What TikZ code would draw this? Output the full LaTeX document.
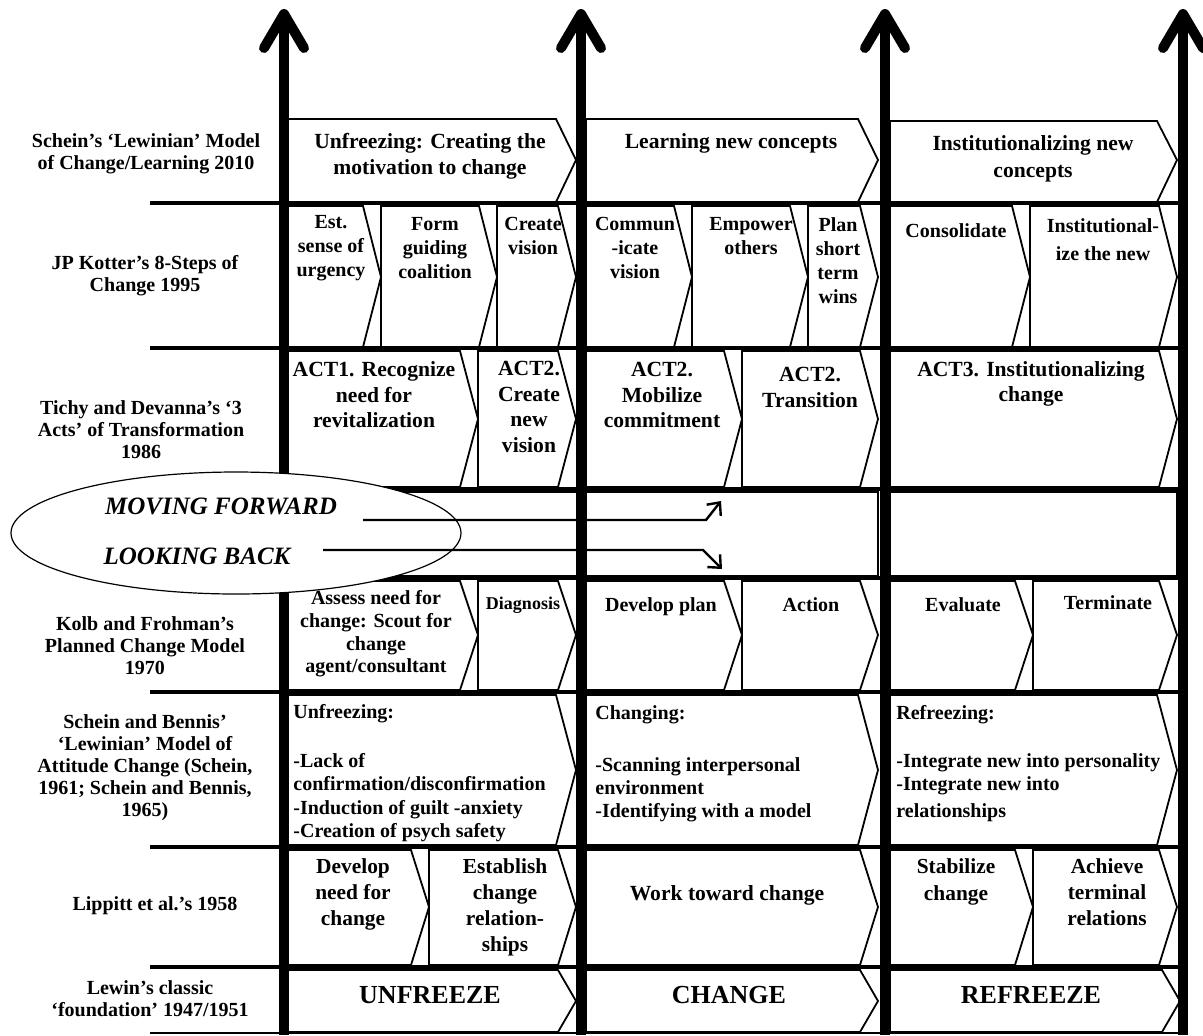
\documentclass[tikz,border=0pt]{standalone}
\usepackage{fontspec}
\setmainfont{Liberation Serif}
\usetikzlibrary{arrows.meta,shapes.geometric}

\begin{document}
\begin{tikzpicture}[x=0.5pt,y=-0.5pt,
  chev/.style={draw,line width=0.9pt,fill=white},
  sepline/.style={line width=2.3pt},
  axis/.style={line width=5pt,-{Straight Barb[length=17pt,width=20pt,round]}},
  flow/.style={line width=1.2pt,-{Straight Barb[length=5pt,width=9pt]}},
  txt/.style={font=\bfseries\fontsize{10}{12}\selectfont,align=center,anchor=north,inner sep=0pt},
  wide/.style={txt,font=\bfseries\fontsize{10.8}{12.8}\selectfont},
  lst/.style={font=\bfseries\fontsize{10}{11.6}\selectfont,align=left,anchor=north west,inner sep=0pt},
  lbl/.style={font=\bfseries\fontsize{10}{11}\selectfont,align=center,inner sep=0pt},
  big/.style={font=\bfseries\fontsize{13}{15}\selectfont,inner sep=0pt},
  tag/.style={font=\bfseries\itshape\fontsize{12.5}{14}\selectfont,inner sep=0pt}]

\useasboundingbox (0,0) rectangle (1203,1035);

% Schein 2010
\draw[chev] (288,119) -- (556,119) -- (576,160) -- (556,202) -- (288,202) -- cycle;
\draw[chev] (586,119) -- (858,119) -- (878,160) -- (858,202) -- (586,202) -- cycle;
\draw[chev] (890,121) -- (1157,121) -- (1177,160) -- (1157,202) -- (890,202) -- cycle;

% Kotter
\draw[chev] (288,206) -- (363,206) -- (381,277) -- (363,347) -- (288,347) -- cycle;
\draw[chev] (381,206) -- (479,206) -- (497,277) -- (479,347) -- (381,347) -- cycle;
\draw[chev] (497,206) -- (558,206) -- (576,277) -- (558,347) -- (497,347) -- cycle;
\draw[chev] (586,206) -- (674,206) -- (692,277) -- (674,347) -- (586,347) -- cycle;
\draw[chev] (692,206) -- (790,206) -- (808,277) -- (790,347) -- (692,347) -- cycle;
\draw[chev] (808,206) -- (860,206) -- (878,277) -- (860,347) -- (808,347) -- cycle;
\draw[chev] (890,206) -- (1012,206) -- (1030,277) -- (1012,347) -- (890,347) -- cycle;
\draw[chev] (1030,206) -- (1159,206) -- (1177,277) -- (1159,347) -- (1030,347) -- cycle;

% Tichy and Devanna
\draw[chev] (288,351) -- (460,351) -- (478,419) -- (460,487) -- (288,487) -- cycle;
\draw[chev] (478,351) -- (558,351) -- (576,419) -- (558,487) -- (478,487) -- cycle;
\draw[chev] (586,351) -- (724,351) -- (742,419) -- (724,487) -- (586,487) -- cycle;
\draw[chev] (742,351) -- (860,351) -- (878,419) -- (860,487) -- (742,487) -- cycle;
\draw[chev] (890,351) -- (1159,351) -- (1177,419) -- (1159,487) -- (890,487) -- cycle;

% empty row
\draw[chev] (288,492) rectangle (578,576);
\draw[chev] (586,492) rectangle (878,576);
\draw[chev] (890,492) rectangle (1177,576);

% Kolb and Frohman
\draw[chev] (288,581) -- (460,581) -- (478,635) -- (460,690) -- (288,690) -- cycle;
\draw[chev] (478,581) -- (558,581) -- (576,635) -- (558,690) -- (478,690) -- cycle;
\draw[chev] (586,581) -- (724,581) -- (742,635) -- (724,690) -- (586,690) -- cycle;
\draw[chev] (742,581) -- (860,581) -- (878,635) -- (860,690) -- (742,690) -- cycle;
\draw[chev] (890,581) -- (1015,581) -- (1033,635) -- (1015,690) -- (890,690) -- cycle;
\draw[chev] (1033,581) -- (1159,581) -- (1177,635) -- (1159,690) -- (1033,690) -- cycle;

% Schein and Bennis
\draw[chev] (288,695) -- (556,695) -- (576,770) -- (556,845) -- (288,845) -- cycle;
\draw[chev] (586,695) -- (858,695) -- (878,770) -- (858,845) -- (586,845) -- cycle;
\draw[chev] (890,695) -- (1157,695) -- (1177,770) -- (1157,845) -- (890,845) -- cycle;

% Lippitt
\draw[chev] (288,850) -- (411,850) -- (429,907) -- (411,965) -- (288,965) -- cycle;
\draw[chev] (429,850) -- (558,850) -- (576,907) -- (558,965) -- (429,965) -- cycle;
\draw[chev] (586,850) -- (860,850) -- (878,907) -- (860,965) -- (586,965) -- cycle;
\draw[chev] (890,850) -- (1015,850) -- (1033,907) -- (1015,965) -- (890,965) -- cycle;
\draw[chev] (1033,850) -- (1159,850) -- (1177,907) -- (1159,965) -- (1033,965) -- cycle;

% Lewin
\draw[chev] (288,970) -- (558,970) -- (576,1001) -- (558,1032) -- (288,1032) -- cycle;
\draw[chev] (586,970) -- (860,970) -- (878,1001) -- (860,1032) -- (586,1032) -- cycle;
\draw[chev] (890,970) -- (1162,970) -- (1180,1001) -- (1162,1032) -- (890,1032) -- cycle;

% row lines
\draw[sepline] (150,203) -- (1185,203);
\draw[sepline] (150,348) -- (1185,348);
\draw[sepline] (150,489) -- (1185,489);
\draw[sepline] (150,578) -- (1185,578);
\draw[sepline] (150,692) -- (1185,692);
\draw[sepline] (150,847) -- (1185,847);
\draw[sepline] (150,967) -- (1185,967);
\draw[line width=0.6pt] (150,1033) -- (1185,1033);

% time axes
\draw[axis] (284,1035) -- (284,9);
\draw[axis] (581,1035) -- (581,9);
\draw[axis] (885,1035) -- (885,9);
\draw[axis] (1183,1035) -- (1183,9);

% oval
\node[draw,ellipse,fill=white,line width=0.6pt,minimum width=225pt,minimum height=61pt] (oval) at (236,533) {};
\node[tag] (mf) at (221,506) {MOVING FORWARD};
\node[tag] (lb) at (197,556) {LOOKING BACK};
\coordinate (mfa) at (363,520);
\coordinate (mfb) at (706,520);
\coordinate (mfc) at (721,501);
\coordinate (lba) at (323,550);
\coordinate (lbb) at (703,550);
\coordinate (lbc) at (722,569);
\draw[flow] (mfa) -- (mfb) -- (mfc);
\draw[flow] (lba) -- (lbb) -- (lbc);

% row labels
\node[lbl] (l1) at (146,154) {Schein's `Lewinian' Model\\of Change/Learning 2010};
\node[lbl] (l2) at (145,276) {JP Kotter's 8-Steps of\\Change 1995};
\node[lbl] (l3) at (141,430) {Tichy and Devanna's `3\\Acts' of Transformation\\1986};
\node[lbl] (l4) at (145,646) {Kolb and Frohman's\\Planned Change Model\\1970};
\node[lbl] (l5) at (145,768) {Schein and  Bennis'\\`Lewinian' Model of\\Attitude Change (Schein,\\1961; Schein and Bennis,\\1965)};
\node[lbl] (l6) at (155,906) {Lippitt et al.'s 1958};
\node[lbl] (l7) at (150,999) {Lewin's classic\\`foundation' 1947/1951};

% Schein 2010 texts
\node[wide] (a1) at (430,133) {Unfreezing:  Creating the\\motivation to change};
\node[wide] (a2) at (731,133) {Learning new concepts};
\node[wide,font=\bfseries\fontsize{10.8}{13.5}\selectfont] (a3) at (1033,135) {Institutionalizing new\\concepts};

% Kotter texts
\node[txt] (b1) at (331,215) {Est.\\sense of\\urgency};
\node[txt] (b2) at (435,217) {Form\\guiding\\coalition};
\node[txt] (b3) at (533,217) {Create\\vision};
\node[txt] (b4) at (635,217) {Commun\\-icate\\vision};
\node[txt] (b5) at (751,217) {Empower\\others};
\node[txt] (b6) at (838,217) {Plan\\short\\term\\wins};
\node[txt] (b7) at (956,223) {Consolidate};
\node[txt] (b8) at (1103,218) {Institutional-\\[2pt]ize the new};

% Tichy and Devanna texts
\node[wide] (c1) at (374,361) {ACT1. Recognize\\need for\\revitalization};
\node[wide] (c2) at (529,361) {ACT2.\\Create\\new\\vision};
\node[wide] (c3) at (662,362) {ACT2.\\Mobilize\\commitment};
\node[wide] (c4) at (810,367) {ACT2.\\Transition};
\node[wide] (c5) at (1031,361) {ACT3. Institutionalizing\\change};

% Kolb and Frohman texts
\node[txt,font=\bfseries\fontsize{10}{11.4}\selectfont] (e1) at (376,590) {Assess need for\\change: Scout for\\change\\agent/consultant};
\node[txt,font=\bfseries\fontsize{9}{11}\selectfont] (e2) at (523,597) {Diagnosis};
\node[txt] (e3) at (661,597) {Develop plan};
\node[txt] (e4) at (811,597) {Action};
\node[txt] (e5) at (963,597) {Evaluate};
\node[txt] (e6) at (1108,595) {Terminate};

% Schein and Bennis texts
\node[lst] (f1) at (293,704) {Unfreezing:\\[13pt]-Lack of\\confirmation/disconfirmation\\-Induction of guilt -anxiety\\-Creation of psych safety};
\node[lst] (f2) at (595,705) {Changing:\\[14.5pt]-Scanning interpersonal\\environment\\-Identifying with a model};
\node[lst] (f3) at (896,705) {Refreezing:\\[12.5pt]-Integrate new into personality\\-Integrate new into\\[1.5pt]relationships};

% Lippitt texts
\node[wide,font=\bfseries\fontsize{10.7}{13}\selectfont] (g1) at (353,858) {Develop\\need for\\change};
\node[wide,font=\bfseries\fontsize{10.7}{13}\selectfont] (g2) at (505,858) {Establish\\change\\relation-\\ships};
\node[wide] (g3) at (727,885) {Work toward change};
\node[wide,font=\bfseries\fontsize{10.7}{13.5}\selectfont] (g4) at (956,858) {Stabilize\\change};
\node[wide,font=\bfseries\fontsize{10.7}{13}\selectfont] (g5) at (1107,858) {Achieve\\terminal\\relations};

% Lewin texts
\node[big] (h1) at (430,995) {UNFREEZE};
\node[big] (h2) at (729,995) {CHANGE};
\node[big] (h3) at (1031,995) {REFREEZE};
\end{tikzpicture}
\end{document}
